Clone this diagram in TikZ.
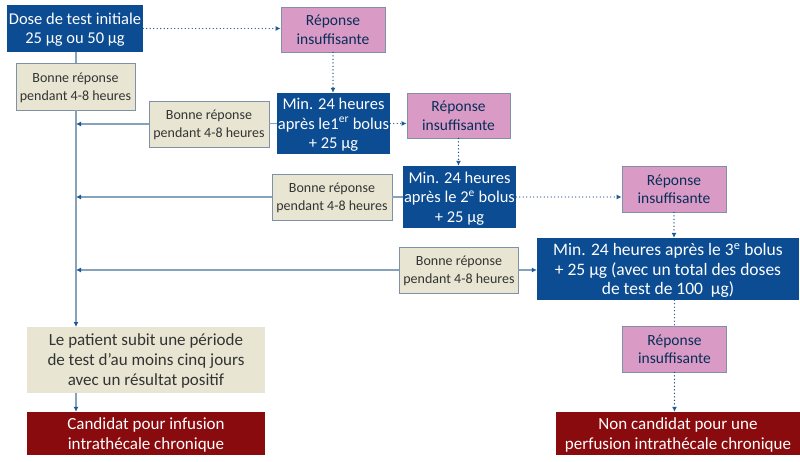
\documentclass[tikz,border=0pt]{standalone}
\usepackage{fontspec}
\setmainfont{Carlito}
\usetikzlibrary{arrows.meta}
\definecolor{dblue}{HTML}{0B4C93}
\definecolor{pinkb}{HTML}{D99BC5}
\definecolor{beige}{HTML}{E8E6D2}
\definecolor{dred}{HTML}{8A0B0E}
\definecolor{lineb}{HTML}{86A3BC}
\definecolor{tipb}{HTML}{1F5A96}
\definecolor{dotb}{HTML}{1E4E86}
\definecolor{bord}{HTML}{8090A6}
\begin{document}
\begin{tikzpicture}[x=1pt,y=-1pt,
  base/.style={rectangle,inner sep=1pt,align=center,text depth=0pt},
  bluebox/.style={base,fill=dblue,text=white,font=\fontsize{16.5}{19.5}\selectfont},
  pinkbox/.style={base,fill=pinkb,draw=bord,line width=0.8pt,text=dblue!60!black,font=\fontsize{15.5}{18.5}\selectfont},
  beigebox/.style={base,fill=beige,draw=bord,line width=0.8pt,text=black!80,font=\fontsize{14}{18}\selectfont},
  redbox/.style={base,fill=dred,text=white,font=\fontsize{17}{19.5}\selectfont},
  solidln/.style={draw=lineb,line width=1.4pt},
  solidar/.style={solidln,-{Latex[length=5pt,width=5pt,color=tipb]}},
  dotln/.style={draw=dotb,line width=1.4pt,line cap=round,dash pattern=on 0pt off 3.5pt},
  dotar/.style={dotln,-{Latex[length=5pt,width=5pt,color=tipb]}}]
\useasboundingbox (0,0) rectangle (800,461);
\fill[white] (0,0) rectangle (800,461);
\node[bluebox,minimum width=136pt,minimum height=47pt] (b1) at (75,28.5) {Dose de test initiale\\25 µg ou 50 µg};
\node[pinkbox,minimum width=104pt,minimum height=45pt] (r1) at (333,29.5) {Réponse\\insuffisante};
\node[beigebox,minimum width=119pt,minimum height=47pt] (g1) at (75.5,86.5) {Bonne réponse\\pendant 4-8 heures};
\node[bluebox,minimum width=113pt,minimum height=61pt] (m1) at (333.5,123.5) {Min. 24 heures\\après le1\textsuperscript{er} bolus\\+ 25 µg};
\node[beigebox,minimum width=120pt,minimum height=46pt] (g2) at (209,124) {Bonne réponse\\pendant 4-8 heures};
\node[pinkbox,minimum width=103pt,minimum height=45pt] (r2) at (458.5,115.5) {Réponse\\insuffisante};
\node[bluebox,minimum width=113pt,minimum height=62pt] (m2) at (459.5,197) {Min. 24 heures\\après le 2\textsuperscript{e} bolus\\+ 25 µg};
\node[beigebox,minimum width=120pt,minimum height=46pt] (g3) at (332,197) {Bonne réponse\\pendant 4-8 heures};
\node[pinkbox,minimum width=104pt,minimum height=46pt] (r3) at (674,189) {Réponse\\insuffisante};
\node[bluebox,minimum width=262pt,minimum height=62pt,font=\fontsize{17.5}{19.5}\selectfont] (m3) at (668,269) {Min. 24 heures après le 3\textsuperscript{e} bolus\\+ 25 µg (avec un total des doses\\de test de 100~ µg)};
\node[beigebox,minimum width=119pt,minimum height=46pt] (g4) at (459,270) {Bonne réponse\\pendant 4-8 heures};
\node[pinkbox,minimum width=104pt,minimum height=46pt] (r4) at (674.5,349) {Réponse\\insuffisante};
\node[redbox,minimum width=244pt,minimum height=43pt] (nc) at (678,433.5) {Non candidat pour une\\perfusion intrathécale chronique};
\node[beigebox,draw=none,minimum width=238pt,minimum height=66pt,font=\fontsize{17}{20}\selectfont] (lp) at (146,360) {Le patient subit une période\\de test d'au moins cinq jours\\avec un résultat positif};
\node[redbox,minimum width=238pt,minimum height=43pt] (cd) at (146,433.5) {Candidat pour infusion\\intrathécale chronique};
% main vertical
\coordinate (vtop) at (76,52);
\coordinate (v2) at (76,124);
\coordinate (v3) at (76,197);
\coordinate (v4) at (76,270);
\coordinate (vbot) at (76,327);
\draw[solidln] (b1.south -| vtop) -- (g1.north -| vtop);
\draw[solidar] (g1.south -| vtop) -- (vbot);
\draw[solidar] (g2.west) -- (v2);
\draw[solidar] (g3.west) -- (v3);
\draw[solidar] (g4.west) -- (v4);
\draw[solidln] (m1.west) -- (m1.west -| g2.east);
\draw[solidln] (m2.west) -- (m2.west -| g3.east);
\draw[solidar] (g4.east) -- (g4.east -| m3.west);
\draw[solidar] (lp.south -| vtop) -- (cd.north -| vtop);
% dotted
\draw[dotar] (b1.east) -- (b1.east -| r1.west);
\draw[dotar] (r1.south) -- (r1.south |- m1.north);
\draw[dotar] (m1.east) -- (m1.east -| r2.west);
\draw[dotar] (r2.south) -- (r2.south |- m2.north);
\draw[dotar] (m2.east) -- (m2.east -| r3.west);
\draw[dotar] (r3.south) -- (r3.south |- m3.north);
\draw[dotln] (m3.south -| r4.north) -- (r4.north);
\draw[dotar] (r4.south) -- (r4.south |- nc.north);
\end{tikzpicture}
\end{document}
